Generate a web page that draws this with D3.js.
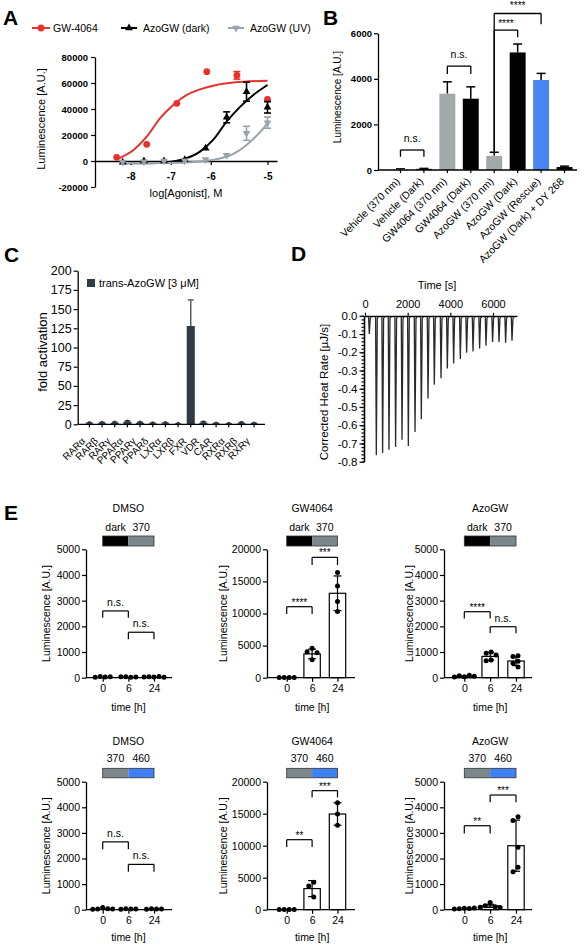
<!DOCTYPE html>
<html><head><meta charset="utf-8">
<script src="https://cdn.jsdelivr.net/npm/d3@7"></script>
<style>
body{margin:0;background:#fff;}
svg{font-family:"Liberation Sans",Arial,Helvetica,sans-serif;}
</style></head><body>
<svg id="fig" width="586" height="945"></svg>
<script>
// ---------------- DATA ----------------
// Panel A
const A_series = ["GW-4064","AzoGW (dark)","AzoGW (UV)"];
const A_xTicks = [-8,-7,-6,-5];
const A_yTicks = [-20000,0,20000,40000,60000,80000];
const A_gwX = [-8.35,-7.60,-6.85,-6.10,-5.54,-5.0];
const A_gwY = [2800,12800,44400,68700,65900,47400];
const A_gwErr = [0,0,0,0,2900,0];
const A_darkX = [-8.20,-7.67,-7.17,-6.65,-6.13,-5.72,-5.37,-5.0];
const A_darkY = [-1000,0,0,1000,9800,33600,53300,41300];
const A_darkErr = [0,0,0,0,0,4200,7300,4400];
const A_uvX = [-8.20,-7.67,-7.17,-6.65,-6.13,-5.72,-5.37,-5.0];
const A_uvY = [-800,-500,0,200,1200,4400,21300,29500];
const A_uvErr = [0,0,0,0,0,0,5400,4300];
const A_gwFitX = [-8.35,-7.93,-7.60,-7.27,-6.94,-6.60,-6.27,-5.90,-5.60,-5.0];
const A_gwFitY = [1300,8500,18700,32800,43100,50800,55100,58500,60300,61800];
const A_darkFitX = [-8.20,-7.52,-7.10,-6.69,-6.27,-5.96,-5.72,-5.48,-5.25,-5.0];
const A_darkFitY = [-1800,-1800,-1000,1300,7200,16200,30300,41800,50800,58500];
const A_uvFitX = [-8.20,-7.10,-6.27,-5.90,-5.60,-5.37,-5.14,-5.0];
const A_uvFitY = [-1500,-1500,-300,1300,5400,12300,21800,29000];

// Panel B
const B_cats = ["Vehicle (370 nm)","Vehicle (Dark)","GW4064 (370 nm)","GW4064 (Dark)","AzoGW (370 nm)","AzoGW (Dark)","AzoGW (Rescue)","AzoGW (Dark) + DY 268"];
const B_vals = [30,50,3350,3130,620,5160,3950,130];
const B_err = [20,20,520,520,160,370,290,40];
const B_yTicks = [0,2000,4000,6000];

// Panel C
const C_cats = ["RARα","RARβ","RARγ","PPARα","PPARγ","PPARδ","LXRα","LXRβ","FXR","VDR","CAR","RXRα","RXRβ","RXRγ"];
const C_vals = [1.2,1.5,1.8,3.2,1.8,1.0,1.2,0.3,128,2.2,0.8,0.3,1.5,0.8];
const C_err = [0.8,0.8,0.8,1.2,0.8,0.6,0.8,0.3,34,1.0,0.5,0.3,0.8,0.5];
const C_yTicks = [0,25,50,75,100,125,150,175,200];
const C_legend = "trans-AzoGW [3 μM]";

// Panel D
const D_time = [187,516,811,1110,1420,1720,2016,2330,2625,2939,3234,3548,3844,4140,4453,4748,5048,5357,5657,5966,6266,6576,6876];
const D_peak = [-0.10,-0.765,-0.752,-0.734,-0.719,-0.679,-0.714,-0.637,-0.567,-0.453,-0.378,-0.343,-0.289,-0.261,-0.237,-0.203,-0.195,-0.179,-0.164,-0.144,-0.144,-0.148,-0.137];
const D_xTicks = [0,2000,4000,6000];
const D_yTicks = [-0.8,-0.7,-0.6,-0.5,-0.4,-0.3,-0.2,-0.1,0];

// Panel E
const E_times = ["0","6","24"];
const E_titles = ["DMSO","GW4064","AzoGW"];
const E_top_labels = ["dark","370"];
const E_bot_labels = ["370","460"];
const E_yTicks5k = [0,1000,2000,3000,4000,5000];
const E_yTicks20k = [0,5000,10000,15000,20000];
// top row (dark / 370)
const E_t_dmso_mean = [30,30,40];
const E_t_dmso_sd = [0,0,0];
const E_t_dmso_dots = [[30,50,40,20],[20,40,30,40],[30,40,50,30,20]];
const E_t_gw_mean = [30,3700,13150];
const E_t_gw_sd = [0,750,2700];
const E_t_gw_dots = [[20,40,30,30],[4600,4050,3900,2800],[16400,14300,11850,10300]];
const E_t_azo_mean = [60,830,650];
const E_t_azo_sd = [30,150,180];
const E_t_azo_dots = [[40,80,100,30,60],[1000,950,880,690,660],[850,830,640,560,420]];
// bottom row (370 / 460)
const E_b_dmso_mean = [40,30,30];
const E_b_dmso_sd = [0,0,0];
const E_b_dmso_dots = [[90,30,40,20,30],[30,40,30,20],[30,40,30,20]];
const E_b_gw_mean = [20,3300,14950];
const E_b_gw_sd = [0,1250,1750];
const E_b_gw_dots = [[20,20,20,20],[4300,3700,2000],[16700,14950,13200]];
const E_b_azo_mean = [50,150,2500];
const E_b_azo_sd = [20,60,1000];
const E_b_azo_dots = [[60,40,50,30,70],[280,150,120,100,90],[3630,3480,2440,1660,1480]];
// significance brackets: [fromIdx, toIdx, topValue, legValue, label]
const E_t_dmso_sig = [[0,1,2600,2330,"n.s."],[1,2,1770,1500,"n.s."]];
const E_t_gw_sig = [[0,1,11060,9920,"****"],[1,2,18750,17550,"***"]];
const E_t_azo_sig = [[0,1,2570,2310,"****"],[1,2,1985,1730,"n.s."]];
const E_b_dmso_sig = [[0,1,2650,2360,"n.s."],[1,2,1770,1480,"n.s."]];
const E_b_gw_sig = [[0,1,10940,9800,"**"],[1,2,18600,17550,"***"]];
const E_b_azo_sig = [[0,1,3280,2980,"**"],[1,2,4480,4195,"***"]];

// ---------------- DRAWING ----------------
const FONT = '"Liberation Sans", Arial, Helvetica, sans-serif';
const svg = d3.select('#fig');
svg.append('rect').attr('width',586).attr('height',945).attr('fill','#fff');

function txt(x,y,s,o={}){
  const t = svg.append('text').attr('x',x).attr('y',y).text(s)
    .attr('font-size',o.fs||11).attr('text-anchor',o.anchor||'middle')
    .attr('font-weight',o.fw||'normal').attr('fill',o.fill||'#000').attr('font-family',FONT);
  if(o.rot) t.attr('transform',`rotate(${o.rot},${x},${y})`);
  return t;
}
function styleAxis(g, fs, fw){
  g.attr('font-family',FONT).attr('font-size',fs);
  g.select('.domain').attr('stroke','#000').attr('stroke-width',1.3);
  g.selectAll('.tick line').attr('stroke','#000').attr('stroke-width',1.2);
  g.selectAll('.tick text').attr('fill','#000').attr('font-weight',fw||'normal');
}
function hline(x1,x2,y,w,c){ svg.append('line').attr('x1',x1).attr('x2',x2).attr('y1',y).attr('y2',y).attr('stroke',c||'#000').attr('stroke-width',w||1.3); }
function vline(x,y1,y2,w,c){ svg.append('line').attr('x1',x).attr('x2',x).attr('y1',y1).attr('y2',y2).attr('stroke',c||'#000').attr('stroke-width',w||1.3); }
const fmtPlain = d => String(d);

// panel letters
[["A",3,25],["B",323,25],["C",4,262],["D",291,261],["E",4,520]].forEach(p=>txt(p[1],p[2],p[0],{fs:21,fw:'bold',anchor:'start'}));

// ===== Panel A =====
(function(){
  const cols = ["#e8302c","#000000","#98a3aa"];
  const ax = d3.scaleLinear().domain([-8.89,-8,-7,-6,-5,-4.83]).range([95,130.7,170.8,210.8,267.5,277]);
  const ay = d3.scaleLinear().domain([-20000,80000]).range([187,57]);
  const gy = svg.append('g').attr('transform','translate(95,0)')
    .call(d3.axisLeft(ay).tickValues(A_yTicks).tickSize(4).tickPadding(3).tickSizeOuter(0).tickFormat(fmtPlain));
  styleAxis(gy,9.5,'bold');
  const gx = svg.append('g').attr('transform',`translate(0,${ay(0)})`)
    .call(d3.axisBottom(ax).tickValues(A_xTicks).tickSize(4).tickPadding(8).tickSizeOuter(0).tickFormat(fmtPlain));
  styleAxis(gx,10,'bold');
  txt(42,119,"Luminescence [A.U.]",{fs:11,rot:-90}).attr('dominant-baseline','middle');
  txt(186,197,"log[Agonist], M",{fs:11});

  const line = d3.line().x(d=>ax(d[0])).y(d=>ay(d[1])).curve(d3.curveMonotoneX);
  const fits = [[A_gwFitX,A_gwFitY],[A_darkFitX,A_darkFitY],[A_uvFitX,A_uvFitY]];
  fits.forEach((f,i)=>{
    svg.append('path').attr('d',line(f[0].map((x,j)=>[x,f[1][j]]))).attr('fill','none')
      .attr('stroke',cols[i]).attr('stroke-width',2);
  });
  const pts = [[A_gwX,A_gwY,A_gwErr],[A_darkX,A_darkY,A_darkErr],[A_uvX,A_uvY,A_uvErr]];
  const sym = [d3.symbol().type(d3.symbolCircle).size(36), d3.symbol().type(d3.symbolTriangle).size(26), d3.symbol().type(d3.symbolTriangle).size(26)];
  pts.forEach((p,i)=>{
    p[0].forEach((x,j)=>{
      const cx = ax(x), v = p[1][j], e = p[2][j];
      if(e>0){
        vline(cx,ay(v-e),ay(v+e),1.6,cols[i]);
        hline(cx-3.5,cx+3.5,ay(v+e),1.6,cols[i]);
        hline(cx-3.5,cx+3.5,ay(v-e),1.6,cols[i]);
      }
      svg.append('path').attr('d',sym[i]())
        .attr('transform',`translate(${cx},${ay(v)})${i===2?' rotate(180)':''}`).attr('fill',cols[i]);
    });
  });
  // legend
  const lx = [[32,50,53],[121,137,143],[228,244,250]];
  A_series.forEach((s,i)=>{
    hline(lx[i][0],lx[i][1],28,2,cols[i]);
    svg.append('path').attr('d',sym[i]()).attr('transform',`translate(${(lx[i][0]+lx[i][1])/2},28)${i===2?' rotate(180)':''}`).attr('fill',cols[i]);
    txt(lx[i][2],32,s,{fs:10.5,anchor:'start'});
  });
})();

// ===== Panel B =====
(function(){
  const bx = d3.scaleBand().domain(B_cats).range([385,580]).padding(0.32);
  const by = d3.scaleLinear().domain([0,6000]).range([170,33.3]);
  const barCols = ["#a3a8aa","#000000","#a3a8aa","#000000","#a3a8aa","#000000","#4a86f2","#000000"];
  B_cats.forEach((c,i)=>{
    const x = bx(c), w = bx.bandwidth(), cx = x+w/2;
    const v = B_vals[i], e = B_err[i];
    vline(cx,by(v),by(v+e),1.5,'#000');
    hline(cx-4.5,cx+4.5,by(v+e),1.5,'#000');
    svg.append('rect').attr('x',x).attr('y',by(v)).attr('width',w).attr('height',by(0)-by(v)).attr('fill',barCols[i]);
  });
  const gy = svg.append('g').attr('transform','translate(378,0)')
    .call(d3.axisLeft(by).tickValues(B_yTicks).tickSize(4).tickPadding(2).tickSizeOuter(0).tickFormat(fmtPlain));
  styleAxis(gy,9.5,'bold');
  const gx = svg.append('g').attr('transform','translate(0,170)')
    .call(d3.axisBottom(bx).tickSize(3).tickSizeOuter(0));
  styleAxis(gx,10.5,'normal');
  gx.select('.domain').remove();
  hline(378,577,170,1.3);
  gx.selectAll('.tick text').attr('x',0).attr('y',0).attr('dy','0.35em').attr('text-anchor','end')
    .attr('transform','translate(-2.5,9.5) rotate(-45)');
  txt(338,97,"Luminescence [A.U.]",{fs:10,rot:-90}).attr('dominant-baseline','middle');
  // brackets
  const c = i => bx(B_cats[i]) + bx.bandwidth()/2;
  function br(i,j,top,legI,legJ,label,lblOff,fs){
    hline(c(i),c(j),by(top),1.3);
    vline(c(i),by(top),by(legI),1.3); vline(c(j),by(top),by(legJ),1.3);
    txt((c(i)+c(j))/2,by(top)-lblOff,label,{fs:fs});
  }
  br(0,1,877,583,583,"n.s.",8,10.5);
  br(2,3,4560,4210,4210,"n.s.",8,10.5);
  br(4,5,6140,790,5830,"****",3,10);
  br(4,6,6870,790,6400,"****",4,10);
})();

// ===== Panel C =====
(function(){
  const col = "#2f3c48";
  const cx = d3.scaleBand().domain(C_cats).range([80.8,262.7]).padding(0.36);
  const cy = d3.scaleLinear().domain([0,200]).range([424.3,270.7]);
  C_cats.forEach((c,i)=>{
    const x = cx(c), w = cx.bandwidth(), m = x+w/2, v=C_vals[i], e=C_err[i];
    vline(m,cy(v),cy(v+e),1.4,i===8?'#4a5661':col);
    hline(m-3,m+3,cy(v+e),1.4,i===8?'#4a5661':col);
    svg.append('rect').attr('x',x).attr('y',cy(v)).attr('width',w).attr('height',Math.max(cy(0)-cy(v),0)).attr('fill',col);
    if(v<5) svg.append('circle').attr('cx',m).attr('cy',cy(v)-0.5).attr('r',1.8).attr('fill',col);
  });
  const gy = svg.append('g').attr('transform','translate(77.7,0)')
    .call(d3.axisLeft(cy).tickValues(C_yTicks).tickSize(4).tickPadding(2).tickSizeOuter(0).tickFormat(fmtPlain));
  styleAxis(gy,12.5,'normal');
  const gx = svg.append('g').attr('transform','translate(0,424.3)')
    .call(d3.axisBottom(cx).tickSize(3).tickSizeOuter(0));
  styleAxis(gx,10,'normal');
  gx.select('.domain').remove();
  hline(77.7,265,424.3,1.3);
  gx.selectAll('.tick text').attr('x',0).attr('y',0).attr('dy','0.35em').attr('text-anchor','end')
    .attr('transform','translate(-6,15) rotate(-45)');
  txt(44,352,"fold activation",{fs:13,rot:-90}).attr('dominant-baseline','middle');
  svg.append('rect').attr('x',87).attr('y',279).attr('width',8).attr('height',8).attr('fill',col);
  txt(99,287,C_legend,{fs:11,anchor:'start'});
})();

// ===== Panel D =====
(function(){
  const dx = d3.scaleLinear().domain([0,7125]).range([365,517]);
  const dy = d3.scaleLinear().domain([-0.8,0]).range([461.7,315.8]);
  // trace
  const pts = [[0,-0.004]];
  D_time.forEach((t,i)=>{
    pts.push([t-20,-0.004]); pts.push([t+15,D_peak[i]]); pts.push([t+60,-0.012]); pts.push([t+130,-0.004]);
  });
  pts.push([7100,-0.004]);
  const line = d3.line().x(d=>dx(d[0])).y(d=>dy(d[1]));
  svg.append('path').attr('d',line(pts)).attr('fill','none').attr('stroke','#2a2a2a').attr('stroke-width',1.3);
  const gx = svg.append('g').attr('transform','translate(0,315.8)')
    .call(d3.axisTop(dx).tickValues(D_xTicks).tickSize(3).tickPadding(5).tickSizeOuter(0).tickFormat(fmtPlain));
  styleAxis(gx,11,'normal');
  const minor = d3.range(-40,1).map(k=>k*0.02);
  const gm = svg.append('g').attr('transform','translate(364,0)')
    .call(d3.axisLeft(dy).tickValues(minor).tickSize(2.5).tickFormat('').tickSizeOuter(0));
  styleAxis(gm,10,'normal');
  const gy = svg.append('g').attr('transform','translate(364,0)')
    .call(d3.axisLeft(dy).tickValues(D_yTicks).tickSize(4.5).tickPadding(2).tickSizeOuter(0).tickFormat(d=>d.toFixed(1)));
  styleAxis(gy,11.5,'normal');
  txt(437,289,"Time [s]",{fs:11});
  txt(325,392,"Corrected Heat Rate [µJ/s]",{fs:11.5,rot:-90}).attr('dominant-baseline','middle');
})();

// ===== Panel E =====
(function(){
  const rows = [
    {titleY:512, lblY:531, barY:536, barH:10, yr:[677.7,549.3], tickY:690, timeY:710.5,
     cols:['#000000','#7b878b'], lbls:E_top_labels,
     data:[[E_t_dmso_mean,E_t_dmso_sd,E_t_dmso_dots,E_t_dmso_sig],[E_t_gw_mean,E_t_gw_sd,E_t_gw_dots,E_t_gw_sig],[E_t_azo_mean,E_t_azo_sd,E_t_azo_dots,E_t_azo_sig]]},
    {titleY:744.5, lblY:762, barY:768.3, barH:9.5, yr:[909.7,781.7], tickY:923, timeY:941,
     cols:['#7b878b','#3f80f2'], lbls:E_bot_labels,
     data:[[E_b_dmso_mean,E_b_dmso_sd,E_b_dmso_dots,E_b_dmso_sig],[E_b_gw_mean,E_b_gw_sd,E_b_gw_dots,E_b_gw_sig],[E_b_azo_mean,E_b_azo_sd,E_b_azo_dots,E_b_azo_sig]]}
  ];
  const panels = [
    {axis:86, cats:[102.7,154], end:172, ylab:47, max:5000, ticks:E_yTicks5k},
    {axis:267, cats:[286.7,337.5], end:355, ylab:224, max:20000, ticks:E_yTicks20k},
    {axis:444, cats:[464.3,516], end:532, ylab:410, max:5000, ticks:E_yTicks5k}
  ];
  rows.forEach(r=>{
    panels.forEach((p,pi)=>{
      const [mean,sd,dots,sig] = r.data[pi];
      const x = d3.scalePoint().domain(E_times).range(p.cats);
      const y = d3.scaleLinear().domain([0,p.max]).range(r.yr);
      const mid = (p.cats[0]+p.cats[1])/2;
      txt(mid,r.titleY,E_titles[pi],{fs:10.5});
      const q1 = p.cats[0]+(p.cats[1]-p.cats[0])/4, q2 = p.cats[0]+3*(p.cats[1]-p.cats[0])/4;
      txt(q1,r.lblY,r.lbls[0],{fs:10.5}); txt(q2,r.lblY,r.lbls[1],{fs:10.5});
      svg.append('rect').attr('x',p.cats[0]).attr('y',r.barY).attr('width',mid-p.cats[0]).attr('height',r.barH).attr('fill',r.cols[0]);
      svg.append('rect').attr('x',mid).attr('y',r.barY).attr('width',p.cats[1]-mid).attr('height',r.barH).attr('fill',r.cols[1]);
      svg.append('rect').attr('x',p.cats[0]).attr('y',r.barY).attr('width',p.cats[1]-p.cats[0]).attr('height',r.barH).attr('fill','none').attr('stroke','#333').attr('stroke-width',0.8);
      // bars
      E_times.forEach((t,i)=>{
        const cx = x(t), v = mean[i];
        if(y(0)-y(v)>1.5){
          svg.append('rect').attr('x',cx-8.2).attr('y',y(v)).attr('width',16.4).attr('height',y(0)-y(v))
            .attr('fill','#fff').attr('stroke','#000').attr('stroke-width',1.2);
        }
        const e = sd[i];
        if(e>0 && (y(v-e)-y(v+e))>2){
          vline(cx,y(Math.max(v-e,0)),y(v+e),1.2);
          hline(cx-4,cx+4,y(v+e),1.2);
          if(v-e>0) hline(cx-4,cx+4,y(v-e),1.2);
        }
        // dots (simple swarm)
        const placed=[]; const offs = dots[i].map(d=>{
          const py=y(d); const cands=[0,-5,5,-10,10,-15,15];
          for(const c of cands){ if(placed.every(q=>Math.hypot(q[0]-c,q[1]-py)>=5)){placed.push([c,py]);return c;} }
          placed.push([0,py]); return 0;});
        const mo = d3.mean(offs);
        dots[i].forEach((d,k)=>{
          svg.append('circle').attr('cx',cx+offs[k]-mo).attr('cy',y(d)).attr('r',2.5).attr('fill','#000');
        });
      });
      // axes
      const gy = svg.append('g').attr('transform',`translate(${p.axis},0)`)
        .call(d3.axisLeft(y).tickValues(p.ticks).tickSize(4).tickPadding(2).tickSizeOuter(0).tickFormat(fmtPlain));
      styleAxis(gy,10.5,'normal');
      hline(p.axis,p.end,r.yr[0],1.3);
      const gx = svg.append('g').attr('transform',`translate(0,${r.yr[0]})`)
        .call(d3.axisBottom(x).tickSize(4).tickPadding(3).tickSizeOuter(0));
      styleAxis(gx,10.5,'normal');
      gx.select('.domain').remove();
      txt(mid,r.timeY,"time [h]",{fs:10.5});
      txt(p.ylab,(r.yr[0]+r.yr[1])/2,"Luminescence [A.U.]",{fs:10.5,rot:-90}).attr('dominant-baseline','middle');
      // brackets
      sig.forEach(s=>{
        const a = x(E_times[s[0]]), b = x(E_times[s[1]]);
        hline(a,b,y(s[2]),1.2); vline(a,y(s[2]),y(s[3]),1.2); vline(b,y(s[2]),y(s[3]),1.2);
        const isStar = s[4].indexOf('*')>=0;
        txt((a+b)/2, y(s[2])-(isStar?1:5), s[4], {fs:isStar?10:10.5});
      });
    });
  });
})();
</script>
</body></html>
